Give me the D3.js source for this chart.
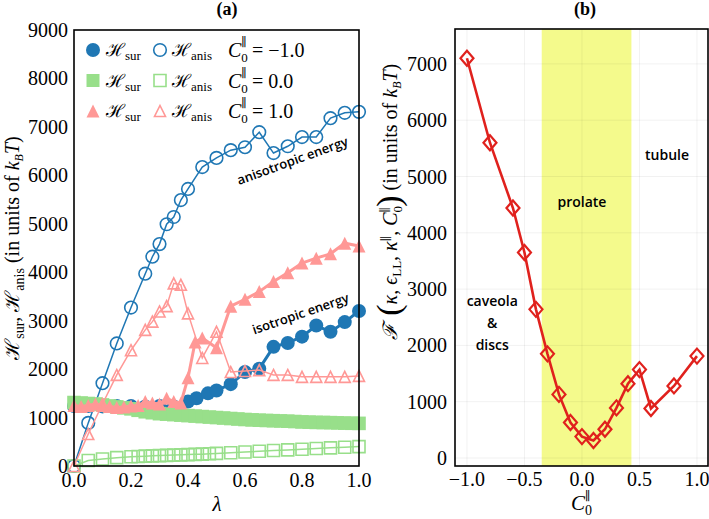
<!DOCTYPE html>
<html><head><meta charset="utf-8">
<script src="https://cdn.jsdelivr.net/npm/d3@7"></script>
<style>
body{margin:0;background:#fff}
text{font-family:'Liberation Serif','DejaVu Serif',serif;fill:#000}
.ann{font-family:'Open Sans','DejaVu Sans',sans-serif;font-weight:600}
</style>
</head><body>
<svg id="c" width="709" height="519" xmlns="http://www.w3.org/2000/svg"></svg>
<script>
// ---------------- Panel (a) data ----------------
const lamSurNeg  = [0,0.05,0.1,0.15,0.2,0.25,0.3,0.35,0.4,0.43,0.47,0.5,0.55,0.6,0.65,0.7,0.75,0.8,0.85,0.9,0.95,1.0];
const surNeg     = [1240,1240,1230,1240,1240,1230,1240,1230,1330,1400,1500,1560,1690,1940,2010,2460,2540,2670,2900,2770,2970,3200];
const lamAnisNeg = [0,0.05,0.1,0.15,0.2,0.25,0.275,0.3,0.325,0.35,0.375,0.4,0.45,0.5,0.55,0.6,0.65,0.7,0.75,0.8,0.85,0.9,0.95,1.0];
const anisNeg    = [0,890,1710,2530,3270,3970,4320,4580,4990,5140,5490,5720,6170,6360,6520,6580,6890,6460,6600,6790,6790,7180,7290,7310];

const lamSurZero = [0,0.025,0.05,0.075,0.1,0.125,0.15,0.175,0.2,0.225,0.25,0.275,0.3,0.325,0.35,0.375,0.4,0.425,0.45,0.475,0.5,0.525,0.55,0.575,0.6,0.625,0.65,0.675,0.7,0.725,0.75,0.775,0.8,0.825,0.85,0.875,0.9,0.925,0.95,0.975,1.0];
const surZero    = [1310,1300,1290,1280,1260,1240,1220,1200,1180,1150,1120,1100,1080,1070,1060,1050,1040,1030,1020,1010,1000,990,980,970,960,952,945,940,935,930,925,918,910,905,900,898,895,890,885,882,880];
const lamAnisZero= [0,0.05,0.1,0.15,0.2,0.225,0.25,0.275,0.3,0.325,0.35,0.375,0.4,0.425,0.45,0.475,0.5,0.55,0.6,0.65,0.7,0.75,0.8,0.85,0.9,0.95,1.0];
const anisZero   = [0,115,145,172,192,197,203,210,215,220,225,230,235,240,245,252,260,275,290,305,320,332,345,360,375,387,400];

const lamSurPos  = [0,0.025,0.05,0.075,0.1,0.125,0.15,0.175,0.2,0.225,0.25,0.275,0.3,0.325,0.35,0.375,0.4,0.425,0.45,0.5,0.55,0.6,0.65,0.7,0.75,0.8,0.85,0.9,0.95,1.0];
const surPos     = [1250,1230,1250,1280,1250,1230,1210,1220,1240,1250,1330,1300,1280,1400,1330,1300,1820,2560,2640,2440,3300,3440,3600,3810,3990,4190,4290,4380,4600,4540];
const lamAnisPos = [0,0.05,0.1,0.15,0.2,0.25,0.275,0.3,0.325,0.35,0.375,0.4,0.45,0.5,0.55,0.6,0.65,0.7,0.75,0.8,0.85,0.9,0.95,1.0];
const anisPos    = [0,660,1280,1880,2390,2810,2980,3190,3300,3770,3740,3150,2230,2770,1940,1960,1980,1880,1880,1840,1840,1840,1840,1860];

const xTicksA = [0,0.2,0.4,0.6,0.8,1.0];
const yTicksA = [0,1000,2000,3000,4000,5000,6000,7000,8000,9000];
const legendLabels = ["−1.0","0.0","1.0"];

// ---------------- Panel (b) data ----------------
const c0Values = [-1.0,-0.8,-0.6,-0.5,-0.4,-0.3,-0.2,-0.1,0.0,0.1,0.2,0.3,0.4,0.5,0.6,0.8,1.0];
const freeEnergy = [7100,5600,4440,3650,2640,1850,1130,630,380,310,510,890,1320,1570,880,1280,1810];
const xTicksB = [-1.0,-0.5,0.0,0.5,1.0];
const yTicksB = [0,1000,2000,3000,4000,5000,6000,7000];
const prolateBand = [-0.35,0.43];
const regionLabels = [
  {lines:["tubule"], x:0.74, y:5300},
  {lines:["prolate"], x:0.0, y:4450},
  {lines:["caveola","&","discs"], x:-0.78, y:2700}
];

// colours
const BLUE="#1f77b4", GREEN="#98df8a", PINK="#ff9896", RED="#e0211d", YELLOW="#f4fa8c";

const svg = d3.select("#c");
svg.append("rect").attr("width",709).attr("height",519).attr("fill","#fff");

function rich(sel, parts){
  parts.forEach(p=>{
    const ts = sel.append("tspan").text(p.t);
    if(p.s) ts.attr("font-size",p.s);
    if(p.dy!==undefined) ts.attr("dy",p.dy);
    if(p.dx!==undefined) ts.attr("dx",p.dx);
    if(p.i) ts.attr("font-style","italic");
    if(p.f) ts.attr("font-family",p.f);
  });
  return sel;
}
const sym = {
  circle: r => `M${r},0A${r},${r} 0 1,1 ${-r},0A${r},${r} 0 1,1 ${r},0Z`,
  square: h => `M${-h},${-h}H${h}V${h}H${-h}Z`,
  tri: h => `M0,${-h}L${h},${h}L${-h},${h}Z`,
  diamond: (w,h) => `M0,${-h}L${w},0L0,${h}L${-w},0Z`
};

// ================= Panel (a) =================
const xA = d3.scaleLinear().domain([0,1]).range([74,359]);
const yA = d3.scaleLinear().domain([0,9000]).range([466,30]);

const gA = svg.append("g");
function series(lams, vals, color, lw, path, filled){
  const pts = lams.map((l,i)=>[xA(l), yA(vals[i])]);
  gA.append("path").attr("d", d3.line()(pts)).attr("fill","none")
    .attr("stroke",color).attr("stroke-width",lw);
  gA.selectAll(null).data(pts).enter().append("path")
    .attr("transform",d=>`translate(${d[0]},${d[1]})`).attr("d",path)
    .attr("fill", filled?color:"none").attr("stroke",color)
    .attr("stroke-width", filled?0:1.6);
}
series(lamSurNeg, surNeg, BLUE, 3, sym.circle(7), true);
series(lamAnisNeg, anisNeg, BLUE, 1.5, sym.circle(6.3), false);
series(lamSurZero, surZero, GREEN, 3, sym.square(6.8), true);
series(lamAnisZero, anisZero, GREEN, 1.5, sym.square(6), false);
series(lamSurPos, surPos, PINK, 3, sym.tri(6.5), true);
series(lamAnisPos, anisPos, PINK, 1.5, sym.tri(5.5), false);

// frame
svg.append("rect").attr("x",74).attr("y",30).attr("width",285).attr("height",436)
  .attr("fill","none").attr("stroke","#000").attr("stroke-width",1.6);

// tick labels
svg.append("g").selectAll("text").data(yTicksA).enter().append("text")
  .attr("x",68).attr("y",d=>yA(d)).attr("dy","0.35em").attr("text-anchor","end")
  .attr("font-size",20).text(d=>d);
svg.append("g").selectAll("text").data(xTicksA).enter().append("text")
  .attr("x",d=>xA(d)).attr("y",487).attr("text-anchor","middle")
  .attr("font-size",20).text(d=>d.toFixed(1));

// axis labels
svg.append("text").attr("x",217).attr("y",511).attr("text-anchor","middle")
  .attr("font-size",21).attr("font-style","italic").text("λ");
rich(svg.append("text").attr("transform","translate(19,248) rotate(-90)")
  .attr("text-anchor","middle").attr("font-size",20),
  [{t:"ℋ"},{t:"sur",s:14,dy:5},{t:", ℋ",dy:-5},{t:"anis",s:14,dy:5},
   {t:" (in units of ",dy:-5},{t:"k",i:true},{t:"B",s:12,dy:4,i:true},{t:"T",i:true,dy:-4},{t:")"}]);

// title
svg.append("text").attr("x",227).attr("y",15).attr("text-anchor","middle")
  .attr("font-size",18).attr("font-weight","bold").text("(a)");

// legend
const legRows = [
  {c:BLUE, f:sym.circle(7), o:sym.circle(6.3)},
  {c:GREEN, f:sym.square(6.5), o:sym.square(6)},
  {c:PINK, f:sym.tri(6.5), o:sym.tri(5.5)}
];
legRows.forEach((r,i)=>{
  const y = 50 + i*30.5;
  svg.append("path").attr("transform",`translate(93,${y})`).attr("d",r.f).attr("fill",r.c);
  svg.append("path").attr("transform",`translate(160,${y})`).attr("d",r.o)
    .attr("fill","none").attr("stroke",r.c).attr("stroke-width",1.6);
  rich(svg.append("text").attr("x",106).attr("y",y+6).attr("font-size",18),
    [{t:"ℋ"},{t:"sur",s:13,dy:4}]);
  rich(svg.append("text").attr("x",172).attr("y",y+6).attr("font-size",18),
    [{t:"ℋ"},{t:"anis",s:13,dy:4}]);
  rich(svg.append("text").attr("x",228).attr("y",y+7).attr("font-size",20),
    [{t:"C",i:true},{t:"0",s:13,dy:5},{t:"∥",s:12,dx:-6.5,dy:-16},{t:" = "+legendLabels[i],dy:11}]);
});

// annotations
svg.append("text").attr("class","ann").attr("font-size",13)
  .attr("transform","translate(294,165) rotate(-20)").attr("text-anchor","middle")
  .text("anisotropic energy");
svg.append("text").attr("class","ann").attr("font-size",13)
  .attr("transform","translate(302,318) rotate(-19)").attr("text-anchor","middle")
  .text("isotropic energy");

// ================= Panel (b) =================
const xB = d3.scaleLinear().domain([-1.104,1.096]).range([455,708]);
const yB = d3.scaleLinear().domain([-142,7620]).range([466,29]);
const gB = svg.append("g");
gB.append("rect").attr("x",xB(prolateBand[0])).attr("y",29)
  .attr("width",xB(prolateBand[1])-xB(prolateBand[0])).attr("height",437).attr("fill",YELLOW);
gB.selectAll(".gx").data(xTicksB).enter().append("line")
  .attr("x1",d=>xB(d)).attr("x2",d=>xB(d)).attr("y1",29).attr("y2",466)
  .attr("stroke","#000").attr("stroke-opacity",0.07).attr("stroke-width",0.8);
gB.selectAll(".gy").data(yTicksB).enter().append("line")
  .attr("x1",455).attr("x2",708).attr("y1",d=>yB(d)).attr("y2",d=>yB(d))
  .attr("stroke","#000").attr("stroke-opacity",0.07).attr("stroke-width",0.8);

const ptsB = c0Values.map((c,i)=>[xB(c), yB(freeEnergy[i])]);
gB.append("path").attr("d",d3.line()(ptsB)).attr("fill","none").attr("stroke",RED).attr("stroke-width",2.6);
gB.selectAll(".pt").data(ptsB).enter().append("path")
  .attr("transform",d=>`translate(${d[0]},${d[1]})`).attr("d",sym.diamond(6.5,7.5))
  .attr("fill","none").attr("stroke",RED).attr("stroke-width",2.2);

svg.append("rect").attr("x",455).attr("y",29).attr("width",253).attr("height",437)
  .attr("fill","none").attr("stroke","#000").attr("stroke-width",1.6);

svg.append("g").selectAll("text").data(yTicksB).enter().append("text")
  .attr("x",447).attr("y",d=>yB(d)).attr("dy","0.35em").attr("text-anchor","end")
  .attr("font-size",20).text(d=>d);
svg.append("g").selectAll("text").data(xTicksB).enter().append("text")
  .attr("x",d=>xB(d)).attr("y",486).attr("text-anchor","middle")
  .attr("font-size",20).text(d=>(d<0?"−":"")+Math.abs(d).toFixed(1));

// region labels
regionLabels.forEach(r=>{
  r.lines.forEach((ln,j)=>{
    svg.append("text").attr("class","ann").attr("font-size",14).attr("text-anchor","middle")
      .attr("x",xB(r.x)).attr("y",yB(r.y)+j*22).text(ln);
  });
});

// axis labels
rich(svg.append("text").attr("x",571).attr("y",510).attr("font-size",21),
  [{t:"C",i:true},{t:"0",s:14,dy:5},{t:"∥",s:12,dx:-7,dy:-15},{t:"",dy:10}]);
rich(svg.append("text").attr("transform","translate(397,202) rotate(-90)")
  .attr("text-anchor","middle").attr("font-size",20),
  [{t:"ℱ",i:true},{t:" (",s:34,dy:3},{t:"κ, ϵ",i:true,s:20,dy:-3},{t:"LL",s:13,dy:4},
   {t:", κ",i:true,dy:-4},{t:"∥",s:12,dy:-7},{t:", ",dy:7},{t:"C",i:true},
   {t:"0",s:13,dy:5},{t:"∥",s:12,dx:-6.5,dy:-13},{t:")",s:34,dy:11},
   {t:" (in units of ",s:20,dy:-3},{t:"k",i:true},{t:"B",s:12,dy:4,i:true},{t:"T",i:true,dy:-4},{t:")"}]);

svg.append("text").attr("x",585).attr("y",15).attr("text-anchor","middle")
  .attr("font-size",18).attr("font-weight","bold").text("(b)");
</script>
</body></html>
